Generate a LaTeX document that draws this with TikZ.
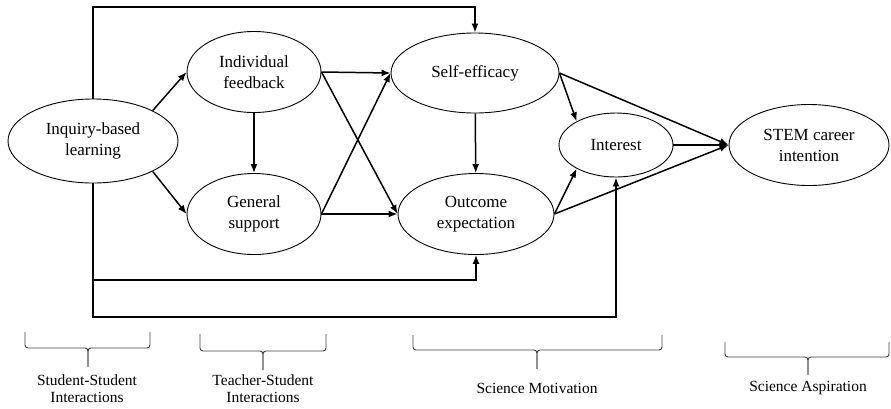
\documentclass[tikz,border=0pt]{standalone}
\usepackage{fontspec}
\setmainfont{Liberation Serif}
\usetikzlibrary{shapes.geometric,arrows.meta}

\begin{document}
\begin{tikzpicture}[x=1pt,y=-1pt,
    latent/.style={draw,ellipse,line width=0.9pt,inner sep=0pt,align=center,
      font=\fontsize{17}{21}\selectfont},
    link/.style={line width=1.5pt,-{Latex[length=9pt,width=7pt]}},
    grp/.style={draw=black!75,line width=0.9pt,rounded corners=3pt},
    grplabel/.style={align=center,font=\fontsize{15.5}{17}\selectfont}]
    \useasboundingbox (0,0) rectangle (891,408);

    % constructs
    \node[latent,minimum width=170pt,minimum height=84pt] (inq) at (93,141) {Inquiry-based\\learning};
    \node[latent,minimum width=134pt,minimum height=81pt] (ifb) at (254,72) {Individual\\feedback};
    \node[latent,minimum width=134pt,minimum height=81pt] (gsup) at (254,214) {General\\support};
    \node[latent,minimum width=168pt,minimum height=80pt] (seff) at (475,73) {Self-efficacy};
    \node[latent,minimum width=156pt,minimum height=81pt] (outc) at (476,214) {Outcome\\expectation};
    \node[latent,minimum width=114pt,minimum height=64pt] (intr) at (616,145) {Interest};
    \node[latent,minimum width=160pt,minimum height=81pt] (stem) at (809,145) {STEM career\\intention};

    \coordinate (topline) at (0,7);
    \coordinate (midline) at (0,280);
    \coordinate (lowline) at (0,317);

    % paths
    \draw[link] (inq.27) -- (ifb.west);
    \draw[link] (inq.-27) -- (gsup.west);
    \draw[link] (ifb) -- (gsup);
    \draw[link] (ifb.east) -- (seff.west);
    \draw[link] (ifb.east) -- (outc.west);
    \draw[link] (gsup.east) -- (seff.west);
    \draw[link] (gsup.east) -- (outc.west);
    \draw[link] (seff) -- (outc);
    \draw[link] (seff.east) -- (intr.149);
    \draw[link] (seff.east) -- (stem.west);
    \draw[link] (outc.east) -- (intr.211);
    \draw[link] (outc.east) -- (stem.west);
    \draw[link] (intr) -- (stem);
    \draw[link] (inq.north) -- (inq.north |- topline) -| (seff.north);
    \draw[link] (inq.south) -- (inq.south |- lowline) -| (intr.south);
    \draw[link] (inq.south |- midline) -| (outc.south);

    % groups
    \draw[grp] (25,332) |- (88,348) -- (88,367);
    \draw[grp] (150,332) |- (88,348) -- (88,367);
    \draw[grp] (200,334) |- (263,351) -- (263,370);
    \draw[grp] (326,334) |- (263,351) -- (263,370);
    \draw[grp] (413,335) |- (537,350) -- (537,369);
    \draw[grp] (662,335) |- (537,350) -- (537,369);
    \draw[grp] (725,342) |- (808,357) -- (808,375);
    \draw[grp] (889,342) |- (808,357) -- (808,375);

    \node[grplabel] (lss) at (87,389) {Student-Student\\Interactions};
    \node[grplabel] (lts) at (263,389) {Teacher-Student\\Interactions};
    \node[grplabel] (lsm) at (537,388) {Science Motivation};
    \node[grplabel] (lsa) at (808,388) {Science Aspiration};
\end{tikzpicture}
\end{document}
